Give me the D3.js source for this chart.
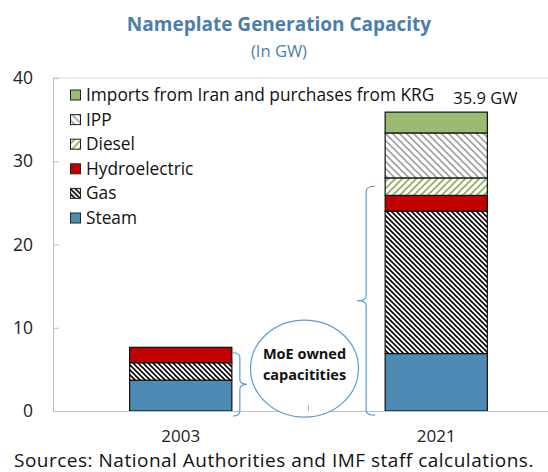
<!DOCTYPE html>
<html>
<head>
<meta charset="utf-8">
<script src="https://cdn.jsdelivr.net/npm/d3@7"></script>
<style>
  body { margin: 0; background: #fff; }
  svg { display: block; font-family: "Open Sans", "Noto Sans", sans-serif; }
</style>
</head>
<body>
<svg id="chart" width="548" height="472"></svg>
<script>
// data (GW)
var years = ["2003", "2021"];
var seriesNames = ["Steam", "Gas", "Hydroelectric", "Diesel", "IPP", "Imports from Iran and purchases from KRG"];
var steam = [3.7, 6.9];
var gas = [2.1, 17.1];
var hydro = [1.85, 1.9];
var diesel = [0, 2.1];
var ipp = [0, 5.4];
var imports = [0, 2.5];
var yTicks = [0, 10, 20, 30, 40];
var totalLabel = "35.9 GW";

var svg = d3.select("#chart");
var width = 548, height = 472;

var x = d3.scaleBand().domain(years).range([53, 564]).paddingInner(0.6).paddingOuter(0.3);
var y = d3.scaleLinear().domain([0, 40]).range([411, 78]);

// patterns
var defs = svg.append("defs");
function hatch(id, bg, color, size, sw, dir) {
  var p = defs.append("pattern").attr("id", id).attr("patternUnits", "userSpaceOnUse")
    .attr("width", size).attr("height", size);
  p.append("rect").attr("width", size).attr("height", size).attr("fill", bg);
  var d = dir > 0
    ? "M0," + size + " L" + size + ",0 M-1,1 L1,-1 M" + (size - 1) + "," + (size + 1) + " L" + (size + 1) + "," + (size - 1)
    : "M0,0 L" + size + "," + size + " M-1," + (size - 1) + " L1," + (size + 1) + " M" + (size - 1) + ",-1 L" + (size + 1) + ",1";
  p.append("path").attr("d", d).attr("stroke", color).attr("stroke-width", sw);
}
hatch("pSteam", "#4a88b1", "#5592ba", 4, 1, -1);
hatch("pGas", "#fff", "#000", 5, 1.6, -1);
hatch("pDiesel", "#fff", "#8fb35f", 7, 1.8, 1);
hatch("pIpp", "#fff", "#a0a0a0", 7, 1.6, -1);

var fills = {
  "Steam": "url(#pSteam)",
  "Gas": "url(#pGas)",
  "Hydroelectric": "#c00000",
  "Diesel": "url(#pDiesel)",
  "IPP": "url(#pIpp)",
  "Imports from Iran and purchases from KRG": "#9bbb73"
};

var rows = years.map(function(yr, i) {
  return {year: yr, "Steam": steam[i], "Gas": gas[i], "Hydroelectric": hydro[i],
    "Diesel": diesel[i], "IPP": ipp[i], "Imports from Iran and purchases from KRG": imports[i]};
});
var stacked = d3.stack().keys(seriesNames)(rows);

// title
svg.append("text").attr("x", 279).attr("y", 31).attr("text-anchor", "middle")
  .attr("font-size", 19).attr("font-weight", "bold").attr("fill", "#4a7eab")
  .text("Nameplate Generation Capacity");
svg.append("text").attr("x", 279).attr("y", 57).attr("text-anchor", "middle")
  .attr("font-size", 16.5).attr("fill", "#4a7eab").text("(In GW)");

// plot frame top line
svg.append("line").attr("x1", 53).attr("x2", width).attr("y1", y(40)).attr("y2", y(40))
  .attr("stroke", "#d9d9d9").attr("stroke-width", 1);

// y axis
var yAxis = svg.append("g").attr("transform", "translate(53,0)")
  .call(d3.axisLeft(y).tickValues(yTicks).tickSize(-6).tickPadding(20));
yAxis.select(".domain").attr("stroke", "#bfbfbf").attr("d", "M0.5," + y(40) + "V" + y(0));
yAxis.selectAll(".tick line").attr("stroke", "#bfbfbf");
yAxis.selectAll(".tick text").attr("font-size", 17.5).attr("fill", "#222")
  .attr("font-family", "Open Sans, sans-serif");

// bars
svg.append("g").selectAll("g").data(stacked).join("g")
  .attr("fill", function(d) { return fills[d.key]; })
  .selectAll("rect").data(function(d) { return d.filter(function(v) { return v[1] - v[0] > 0; }); })
  .join("rect")
  .attr("x", function(d) { return x(d.data.year); })
  .attr("y", function(d) { return y(d[1]); })
  .attr("width", x.bandwidth())
  .attr("height", function(d) { return y(d[0]) - y(d[1]); })
  .attr("stroke", "#111").attr("stroke-width", 1.2);

// x axis
var xAxis = svg.append("g").attr("transform", "translate(0," + y(0) + ")");
xAxis.append("line").attr("x1", 53).attr("x2", width).attr("y1", 0.5).attr("y2", 0.5)
  .attr("stroke", "#bfbfbf");
var midTick = 53 + x.step();
xAxis.selectAll(".xl").data(years).join("text")
  .attr("x", function(d) { return x(d) + x.bandwidth() / 2; })
  .attr("y", 31).attr("text-anchor", "middle").attr("font-size", 17).attr("fill", "#222")
  .text(function(d) { return d; });

// total label
svg.append("text").attr("x", x("2021") + x.bandwidth() / 2 + 17)
  .attr("y", y(35.9) - 8).attr("font-size", 16.5).attr("fill", "#111").text(totalLabel);

// braces
function brace(xa, xb, yTop, yBot, r) {
  var xm = (xa + xb) / 2, ym = (yTop + yBot) / 2;
  return "M" + xa + "," + yTop +
    " Q" + xm + "," + yTop + " " + xm + "," + (yTop + r) +
    " L" + xm + "," + (ym - r) +
    " Q" + xm + "," + ym + " " + xb + "," + ym +
    " Q" + xm + "," + ym + " " + xm + "," + (ym + r) +
    " L" + xm + "," + (yBot - r) +
    " Q" + xm + "," + yBot + " " + xa + "," + yBot;
}
var b1x = x("2003") + x.bandwidth();
svg.append("path").attr("d", brace(b1x + 1, b1x + 15, y(7.0), y(-0.6), 5))
  .attr("fill", "none").attr("stroke", "#5b9bd5").attr("stroke-width", 1.2);
var b2x = x("2021");
svg.append("path").attr("d", brace(b2x - 10, b2x - 28, y(27.0), y(-0.5), 5))
  .attr("fill", "none").attr("stroke", "#5b9bd5").attr("stroke-width", 1.2);

// MoE owned bubble
var cx = (x("2003") + x.bandwidth() + x("2021")) / 2 - 4;
svg.append("ellipse").attr("cx", cx).attr("cy", y(5.1)).attr("rx", 54).attr("ry", 48.5)
  .attr("fill", "#fff").attr("stroke", "#5b9bd5").attr("stroke-width", 1.2);
svg.append("line").attr("x1", midTick).attr("x2", midTick).attr("y1", y(0)).attr("y2", y(0) - 6)
  .attr("stroke", "#bfbfbf");
svg.append("text").attr("x", cx).attr("y", y(5.1) - 10).attr("text-anchor", "middle")
  .attr("font-size", 14.5).attr("font-weight", "bold").attr("fill", "#111").text("MoE owned");
svg.append("text").attr("x", cx).attr("y", y(5.1) + 11).attr("text-anchor", "middle")
  .attr("font-size", 14.5).attr("font-weight", "bold").attr("fill", "#111").text("capacitities");

// legend (top item first)
var legendItems = seriesNames.slice().reverse();
var leg = svg.append("g").selectAll("g").data(legendItems).join("g")
  .attr("transform", function(d, i) { return "translate(70," + (95 + i * 24.6) + ")"; });
leg.append("rect").attr("x", 0.5).attr("y", -5).attr("width", 10).attr("height", 10)
  .attr("fill", function(d) { return fills[d]; }).attr("stroke", "#222").attr("stroke-width", 1);
leg.append("text").attr("x", 16).attr("y", 6).attr("font-size", 17.3).attr("fill", "#111")
  .text(function(d) { return d; });

// source
svg.append("text").attr("x", 14).attr("y", 467).attr("font-size", 19).attr("letter-spacing", 0.5)
  .attr("fill", "#111").text("Sources: National Authorities and IMF staff calculations.");
</script>
</body>
</html>
